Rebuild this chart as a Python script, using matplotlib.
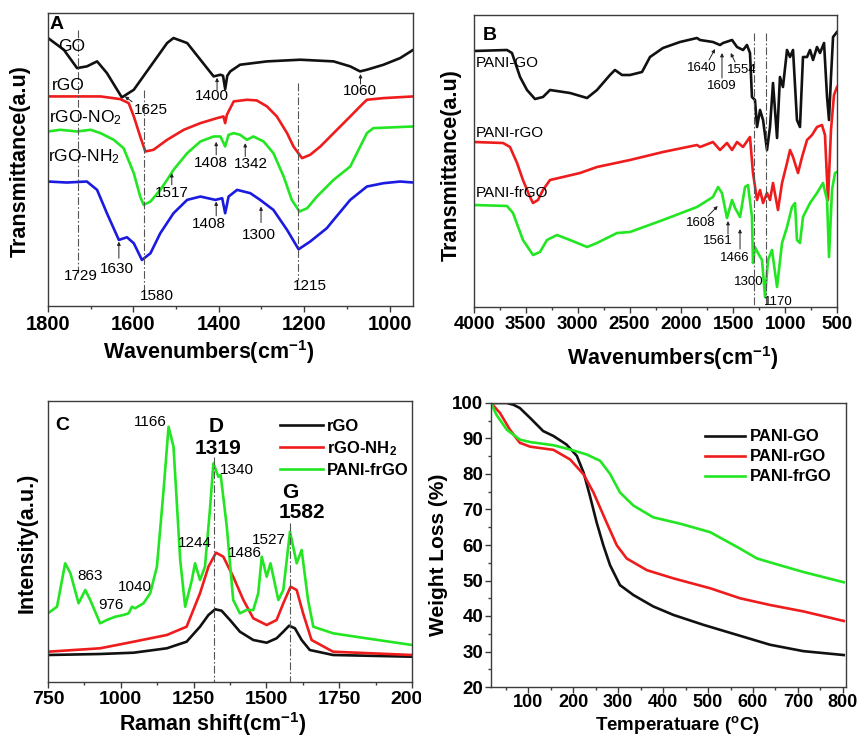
import matplotlib
matplotlib.use('Agg')
import matplotlib.pyplot as plt
from matplotlib.ticker import MultipleLocator, FixedLocator
from matplotlib.transforms import Bbox

plt.rcParams.update({
    'font.family': ['Liberation Sans', 'DejaVu Sans'],
    'font.weight': 'bold',
    'mathtext.default': 'regular',
})

# ---------------- Panel A : FTIR of GO family ----------------
go_wn = [1800, 1763, 1732, 1709, 1685, 1662, 1627, 1599, 1560, 1521, 1506, 1474, 1443, 1412, 1396,
         1390, 1385, 1380, 1373, 1350, 1287, 1209, 1131, 1092, 1069, 1053, 1014, 975, 944]
go_t = [803, 768, 713, 718, 733, 698, 625, 648, 718, 788, 803, 788, 738, 688, 693,
        690, 650, 690, 703, 723, 733, 738, 733, 718, 703, 708, 723, 743, 768]

rgo_wn = [1800, 1677, 1631, 1611, 1599, 1584, 1572, 1553, 1521, 1482, 1443, 1404, 1389, 1385, 1381,
          1365, 1334, 1311, 1287, 1264, 1240, 1225, 1205, 1186, 1162, 1131, 1092, 1069, 1053, 1014, 944]
rgo_t = [628, 628, 620, 608, 568, 508, 463, 468, 498, 528, 548, 563, 568, 548, 573,
         613, 618, 616, 598, 568, 518, 478, 443, 453, 478, 518, 568, 598, 618, 623, 628]

no2_wn = [1800, 1771, 1732, 1700, 1677, 1646, 1623, 1599, 1584, 1576, 1560, 1537, 1521, 1506, 1474,
          1443, 1412, 1396, 1385, 1377, 1365, 1350, 1334, 1319, 1295, 1272, 1248, 1229, 1211, 1193,
          1170, 1131, 1092, 1053, 1038, 944]
no2_t = [523, 528, 523, 528, 518, 498, 473, 398, 328, 303, 313, 348, 378, 408, 458,
         493, 508, 508, 478, 513, 518, 513, 498, 508, 493, 458, 388, 318, 283, 293,
         328, 378, 418, 518, 533, 538]

nh2_wn = [1800, 1756, 1709, 1685, 1662, 1634, 1615, 1599, 1580, 1560, 1537, 1506, 1474, 1443, 1408,
          1392, 1385, 1377, 1357, 1326, 1303, 1272, 1240, 1213, 1186, 1147, 1131, 1092, 1053, 1014, 975, 944]
nh2_t = [373, 370, 373, 348, 278, 198, 206, 188, 138, 158, 218, 278, 318, 328, 318,
         323, 278, 328, 348, 338, 318, 288, 228, 170, 193, 233, 258, 318, 358, 368, 373, 370]

# ---------------- Panel B : FTIR of PANI composites ----------------
pgo_wn = [4000, 3682, 3634, 3556, 3489, 3412, 3335, 3267, 3074, 2910, 2814, 2689, 2641, 2573, 2496,
          2380, 2303, 2178, 2014, 1850, 1821, 1696, 1628, 1599, 1512, 1464, 1406, 1368, 1339, 1320,
          1291, 1271, 1242, 1213, 1175, 1146, 1117, 1078, 1050, 1021, 982, 953, 924, 886, 857,
          828, 789, 760, 731, 693, 664, 625, 596, 577, 558, 538, 500]
pgo_t = [256, 257, 254, 230, 217, 208, 210, 217, 214, 209, 217, 232, 237, 232, 232,
         235, 250, 259, 265, 269, 267, 265, 262, 264, 267, 260, 257, 262, 254, 210,
         207, 180, 197, 187, 157, 180, 224, 169, 230, 220, 257, 250, 257, 187, 180,
         250, 250, 257, 247, 260, 254, 264, 210, 187, 230, 270, 275]

prgo_wn = [4000, 3720, 3653, 3585, 3528, 3460, 3431, 3383, 3335, 3267, 3142, 2978, 2814, 2496, 2178,
           1850, 1821, 1696, 1628, 1561, 1512, 1464, 1406, 1339, 1310, 1271, 1242, 1213, 1175, 1146,
           1117, 1069, 1030, 982, 953, 924, 876, 837, 789, 741, 693, 645, 616, 587, 558, 529, 500]
prgo_t = [165, 164, 160, 144, 127, 110, 104, 107, 117, 127, 130, 134, 140, 147, 155,
          162, 160, 165, 157, 164, 157, 165, 160, 170, 134, 107, 117, 104, 114, 107,
          124, 97, 124, 144, 157, 150, 134, 150, 167, 172, 180, 182, 172, 107, 177, 212, 220]

pfrgo_wn = [4000, 3682, 3624, 3528, 3431, 3364, 3296, 3200, 3074, 2910, 2814, 2718, 2621, 2496, 2178,
            1850, 1696, 1647, 1609, 1561, 1512, 1483, 1435, 1387, 1358, 1320, 1310, 1291, 1262, 1223,
            1194, 1165, 1127, 1078, 1030, 982, 934, 905, 886, 857, 828, 760, 693, 635, 596, 577,
            548, 519, 500]
pfrgo_t = [102, 101, 94, 67, 52, 55, 67, 72, 67, 60, 64, 69, 74, 75, 87,
           100, 110, 120, 114, 89, 107, 99, 90, 120, 122, 90, 44, 60, 54, 47,
           10, 47, 57, 20, 64, 80, 100, 104, 67, 64, 90, 104, 114, 124, 107, 50,
           117, 134, 135]

# ---------------- Panel C : Raman ----------------
r_rgo_x = [750, 929, 1044, 1158, 1226, 1272, 1301, 1324, 1346, 1375, 1409, 1455, 1501, 1535, 1558,
           1578, 1598, 1621, 1649, 1729, 2000]
r_rgo_y = [27, 28, 29.3, 33.7, 40.3, 55.3, 67, 72.7, 71.3, 62, 50.3, 42, 39.3, 43.7, 50.3,
           56.3, 53.7, 42, 32, 27, 25.3]

r_nh2_x = [750, 929, 1044, 1158, 1226, 1272, 1301, 1327, 1352, 1386, 1421, 1455, 1501, 1535, 1558,
           1583, 1604, 1626, 1655, 1729, 2000]
r_nh2_y = [30.3, 33.7, 40.3, 47, 55.3, 88.7, 115.3, 129.3, 125.3, 105.3, 82, 63.7, 57, 62, 78.7,
           95.3, 92, 68.7, 42, 30.3, 27]

r_pani_x = [750, 781, 809, 827, 855, 878, 895, 929, 952, 981, 1009, 1027, 1038, 1049, 1078,
            1101, 1124, 1146, 1164, 1181, 1204, 1221, 1244, 1255, 1272, 1289, 1306, 1318, 1335, 1343,
            1364, 1386, 1409, 1432, 1455, 1472, 1484, 1501, 1514, 1541, 1558, 1581, 1604, 1621, 1643,
            1661, 1729, 1843, 2000]
r_pani_y = [68.7, 75.3, 118.7, 108.7, 78.7, 92, 82, 58.7, 62, 65.3, 67, 68.7, 75.3, 73.7, 78.7,
            88.7, 115.3, 188.7, 255.3, 235.3, 122, 75.3, 102, 118.7, 102, 115.3, 172, 218.7, 205.3, 207,
            155.3, 82, 68.7, 72, 72, 88.7, 125.3, 105.3, 118.7, 82, 92, 150.3, 118.7, 132, 82,
            55.3, 48.7, 43.7, 37]

# ---------------- Panel D : TGA ----------------
tga_go_T = [17, 52, 67, 81, 104, 133, 156, 185, 208, 223, 237, 252, 267, 282, 304, 334, 378, 423,
            490, 564, 638, 712, 802]
tga_go_W = [100, 100, 99.5, 98.6, 95.8, 92.1, 90.7, 88.3, 85.1, 80.4, 73.9, 66.4, 59.9, 54.3, 48.7,
            45.9, 42.7, 40.3, 37.5, 34.7, 31.9, 30.1, 29.0]
tga_rgo_T = [17, 37, 59, 81, 104, 156, 193, 223, 245, 274, 297, 319, 364, 423, 505, 571, 638, 712, 802]
tga_rgo_W = [100, 97.2, 92.5, 88.8, 87.7, 86.8, 84.1, 79.9, 74.8, 66.4, 59.9, 56.2, 52.9, 50.6, 47.8,
             45.0, 43.1, 41.3, 38.6]
tga_frgo_T = [17, 29, 52, 81, 104, 156, 193, 230, 260, 282, 304, 334, 378, 438, 505, 571, 609, 660,
              712, 802]
tga_frgo_W = [100, 96.7, 92.5, 89.7, 89.0, 88.1, 86.9, 85.5, 83.7, 80.0, 74.8, 71.1, 67.8, 66.0, 63.6,
              59.0, 56.2, 54.3, 52.4, 49.5]

BLACK = '#111111'
RED = '#ee1c1c'
GREEN = '#22e622'
BLUE = '#1a1ae0'
SPINE = '#3c3c3c'
LW = 1.9

W, H = 863, 737
fig = plt.figure(figsize=(W / 100, H / 100), dpi=100)


def add_ax(l, r, t, b):
    return fig.add_axes([l / W, 1 - b / H, (r - l) / W, (b - t) / H])


def style(ax, labelsize):
    for s in ax.spines.values():
        s.set_linewidth(1.0)
        s.set_color(SPINE)
    ax.tick_params(which='both', direction='out', top=False, right=False, color=SPINE,
                   labelsize=labelsize, pad=2.5)
    ax.tick_params(which='major', length=4, width=1)
    ax.tick_params(which='minor', length=2.5, width=1)


def ftext(px, py, s, **kw):
    fig.text(px / W, 1 - py / H, s, ha='center', va='center', **kw)


def arrow(ax, tail, head):
    ax.annotate('', xy=head, xytext=tail,
                arrowprops=dict(arrowstyle='-|>', lw=0.7, color='#222222', mutation_scale=5,
                                shrinkA=0, shrinkB=0))


DASH = (0, (7, 2, 1.5, 2))

# ---- A ----
axA = add_ax(48, 413, 13, 306)
style(axA, 14.5)
axA.plot(go_wn, go_t, color=BLACK, lw=LW)
axA.plot(rgo_wn, rgo_t, color=RED, lw=LW)
axA.plot(no2_wn, no2_t, color=GREEN, lw=LW)
axA.plot(nh2_wn, nh2_t, color=BLUE, lw=LW)
axA.set_xlim(1800, 945)
axA.set_ylim(0, 878)
axA.xaxis.set_major_locator(FixedLocator([1800, 1600, 1400, 1200, 1000]))
axA.xaxis.set_minor_locator(MultipleLocator(100))
axA.set_yticks([])
for x0, y0, y1 in [(1729, 828, 98), (1576, 648, 48), (1215, 668, 78)]:
    axA.plot([x0, x0], [y0, y1], color='#555555', lw=0.8, ls=DASH)
tA = dict(fontweight='normal', ha='center', va='center')
axA.text(1779, 843, 'A', fontsize=14, fontweight='bold', ha='center', va='center')
axA.text(1744, 778, 'GO', fontsize=12.5, **tA)
axA.text(1752, 660, 'rGO', fontsize=12.5, **tA)
axA.text(1713, 563, 'rGO-NO$_2$', fontsize=12.5, **tA)
axA.text(1716, 448, 'rGO-NH$_2$', fontsize=12.5, **tA)
for s, x, y in [('1625', 1560, 588), ('1400', 1416, 628), ('1060', 1070, 643), ('1408', 1418, 430),
                ('1342', 1325, 425), ('1517', 1510, 340), ('1408', 1424, 246), ('1300', 1307, 213),
                ('1630', 1638, 110), ('1729', 1724, 90), ('1580', 1545, 30), ('1215', 1186, 60)]:
    axA.text(x, y, s, fontsize=11, **tA)
arrow(axA, (1603, 612), (1620, 628))
arrow(axA, (1404, 648), (1404, 684))
arrow(axA, (1068, 665), (1068, 695))
arrow(axA, (1406, 453), (1406, 492))
arrow(axA, (1338, 448), (1338, 488))
arrow(axA, (1510, 363), (1510, 398))
arrow(axA, (1406, 270), (1406, 313))
arrow(axA, (1301, 250), (1301, 298))
arrow(axA, (1634, 143), (1634, 193))

# ---- B ----
axB = add_ax(474, 837, 15, 307)
style(axB, 13.5)
axB.plot(pgo_wn, pgo_t, color=BLACK, lw=LW)
axB.plot(prgo_wn, prgo_t, color=RED, lw=LW)
axB.plot(pfrgo_wn, pfrgo_t, color=GREEN, lw=LW)
axB.set_xlim(4000, 500)
axB.set_ylim(0, 292)
axB.xaxis.set_major_locator(MultipleLocator(500))
axB.xaxis.set_minor_locator(MultipleLocator(250))
axB.set_yticks([])
for x0 in (1300, 1182):
    axB.plot([x0, x0], [274, 0], color='#555555', lw=0.8, ls=DASH)
axB.text(3846, 272, 'B', fontsize=14, fontweight='bold', ha='center', va='center')
axB.text(3980, 244, 'PANI-GO', fontsize=11, fontweight='normal', ha='left', va='center')
axB.text(3980, 174, 'PANI-rGO', fontsize=11, fontweight='normal', ha='left', va='center')
axB.text(3980, 114, 'PANI-frGO', fontsize=11, fontweight='normal', ha='left', va='center')
for s, x, y in [('1640', 1802, 239), ('1609', 1609, 221), ('1554', 1416, 237), ('1608', 1811, 84),
                ('1561', 1647, 66), ('1466', 1483, 49), ('1300', 1348, 25), ('1170', 1069, 5)]:
    axB.text(x, y, s, fontsize=9.5, fontweight='normal', ha='center', va='center')
arrow(axB, (1734, 247), (1676, 258))
arrow(axB, (1609, 229), (1609, 254))
arrow(axB, (1483, 245), (1525, 254))
arrow(axB, (1744, 91), (1650, 101))
arrow(axB, (1551, 73), (1551, 86))
arrow(axB, (1435, 58), (1435, 78))

# ---- C ----
axC = add_ax(48, 412, 401, 682)
style(axC, 14)
axC.plot(r_rgo_x, r_rgo_y, color=BLACK, lw=LW, label='rGO')
axC.plot(r_nh2_x, r_nh2_y, color=RED, lw=LW, label='rGO-NH$_2$')
axC.plot(r_pani_x, r_pani_y, color=GREEN, lw=LW, label='PANI-frGO')
axC.set_xlim(750, 2000)
axC.set_ylim(0, 281)
axC.xaxis.set_major_locator(MultipleLocator(250))
axC.xaxis.set_minor_locator(MultipleLocator(125))
axC.set_yticks([])
axC.plot([1320, 1320], [225, 0], color='#555555', lw=0.8, ls=DASH)
axC.plot([1581, 1581], [159, 0], color='#555555', lw=0.8, ls=DASH)
axC.text(798, 257, 'C', fontsize=14, fontweight='bold', ha='center', va='center')
axC.text(1329, 255, 'D', fontsize=15, fontweight='bold', ha='center', va='center')
axC.text(1335, 234, '1319', fontsize=15, fontweight='bold', ha='center', va='center')
axC.text(1581, 189, 'G', fontsize=15, fontweight='bold', ha='center', va='center')
axC.text(1621, 169, '1582', fontsize=15, fontweight='bold', ha='center', va='center')
for s, x, y in [('1166', 1101, 260), ('1340', 1398, 212), ('1244', 1253, 139), ('1486', 1426, 129),
                ('1527', 1510, 142), ('863', 895, 106), ('1040', 1049, 95), ('976', 967, 77)]:
    axC.text(x, y, s, fontsize=11, fontweight='normal', ha='center', va='center')
axC.legend(loc='upper left', bbox_to_anchor=(0.637, 0.935), frameon=False, fontsize=12,
           handlelength=2.6, handletextpad=0.25, labelspacing=0.3, borderpad=0, borderaxespad=0)

# ---- D ----
axD = add_ax(491, 846, 403, 687)
style(axD, 13)
axD.tick_params(axis='y', pad=1.5, labelsize=13.5)
axD.tick_params(axis='x', pad=1)
axD.plot(tga_go_T, tga_go_W, color=BLACK, lw=LW, label='PANI-GO')
axD.plot(tga_rgo_T, tga_rgo_W, color=RED, lw=LW, label='PANI-rGO')
axD.plot(tga_frgo_T, tga_frgo_W, color=GREEN, lw=LW, label='PANI-frGO')
axD.set_xlim(17, 807)
axD.set_ylim(20, 100)
axD.xaxis.set_major_locator(FixedLocator([100, 200, 300, 400, 500, 600, 700, 800]))
axD.xaxis.set_minor_locator(MultipleLocator(50))
axD.yaxis.set_major_locator(MultipleLocator(10))
axD.yaxis.set_minor_locator(MultipleLocator(5))
axD.legend(loc='upper left', bbox_to_anchor=(0.603, 0.907), frameon=False, fontsize=12,
           handlelength=2.4, handletextpad=0.3, labelspacing=0.3, borderpad=0, borderaxespad=0)

# ---- axis labels ----
LBL = dict(fontweight='bold')
ftext(209, 352, 'Wavenumbers(cm$^{-1}$)', fontsize=15.5, **LBL)
ftext(673, 358, 'Wavenumbers(cm$^{-1}$)', fontsize=15.5, **LBL)
ftext(20, 161, 'Transmittance(a.u)', fontsize=15.5, rotation=90, **LBL)
ftext(451, 165, 'Transmittance(a.u)', fontsize=15.5, rotation=90, **LBL)
ftext(213, 724, 'Raman shift(cm$^{-1}$)', fontsize=15.5, **LBL)
ftext(27, 543, 'Intensity(a.u.)', fontsize=15.5, rotation=90, **LBL)
ftext(677, 725, 'Temperatuare ($^{o}$C)', fontsize=13.5, **LBL)
ftext(438, 555, 'Weight Loss (%)', fontsize=15, rotation=90, **LBL)

# clip the last Raman tick label like the cropped original
fig.canvas.draw()
clip = Bbox.from_extents(0, 0, 421, H)
for t in axC.get_xticklabels():
    if t.get_text() == '2000':
        t.set_clip_box(clip)
        t.set_clip_on(True)

fig.savefig('out.png', dpi=100)
